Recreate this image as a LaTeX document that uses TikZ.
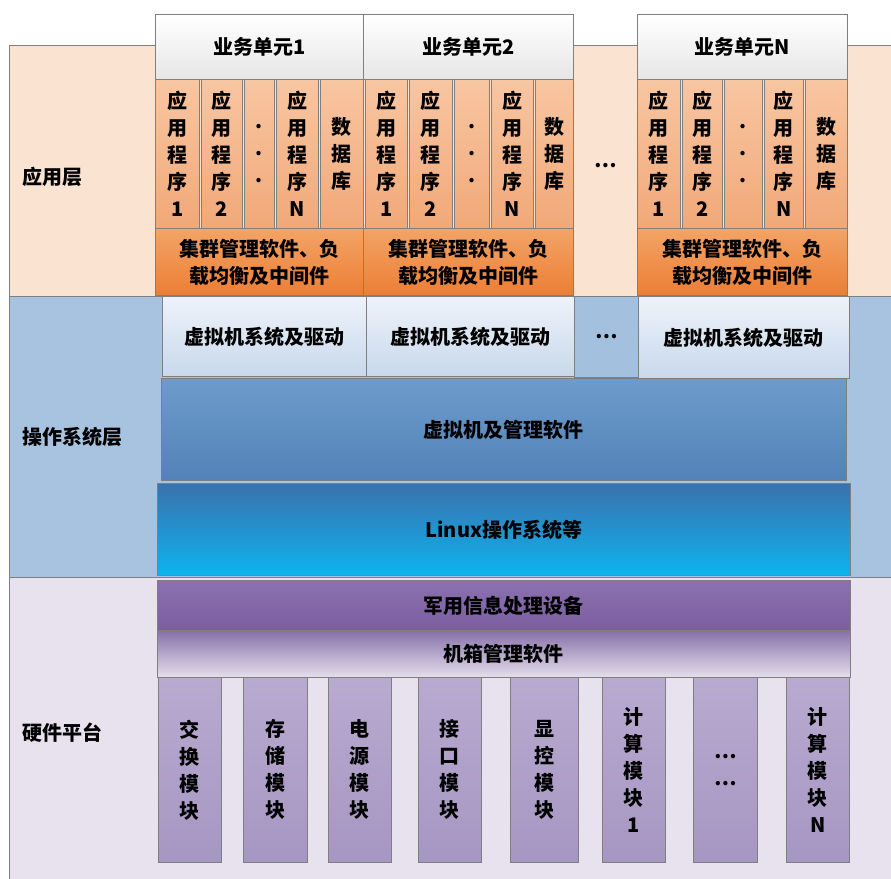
\documentclass[tikz,border=0pt]{standalone}
\usepackage{fontspec}
\setmainfont{Noto Sans CJK SC}
\definecolor{linegray}{HTML}{7F7F7F}
\definecolor{appbg}{HTML}{FBE3D2}
\definecolor{osbg}{HTML}{A8C3DF}
\definecolor{hwbg}{HTML}{E7E2EE}
\definecolor{hdrbot}{HTML}{E6E6E6}
\definecolor{appt}{HTML}{F8C6A2}
\definecolor{appb}{HTML}{F1A878}
\definecolor{midt}{HTML}{F3A466}
\definecolor{midb}{HTML}{EC7E35}
\definecolor{vmt}{HTML}{EEF3FA}
\definecolor{vmb}{HTML}{C8D8EB}
\definecolor{gapc}{HTML}{A3C0DE}
\definecolor{mgt}{HTML}{6D9BCB}
\definecolor{mgb}{HTML}{5282B8}
\definecolor{lxt}{HTML}{3A72AC}
\definecolor{lxb}{HTML}{0DB3EF}
\definecolor{jyt}{HTML}{8C71B1}
\definecolor{jyb}{HTML}{7A5E9F}
\definecolor{jxt}{HTML}{8770AA}
\definecolor{jxb}{HTML}{E4DFEB}
\definecolor{mdt}{HTML}{B9AAD0}
\definecolor{mdb}{HTML}{A696C2}
\newcommand\mybox[7]{\node[#1, anchor=north west, inner sep=0pt, minimum width={(#5)-(#3)}, minimum height={(#6)-(#4)}] (#2) at (#3,#4) {#7};}
\tikzset{
  txt/.style={font=\bfseries\fontsize{20}{27}\selectfont, align=center, text=black},
  lay/.style={draw=linegray, line width=0.8pt},
  hdr/.style={txt, draw=linegray, line width=0.8pt, top color=white, bottom color=hdrbot},
  appc/.style={txt, draw=linegray, line width=0.8pt, top color=appt, bottom color=appb},
  mid/.style={txt, draw=linegray, line width=0.8pt, top color=midt, bottom color=midb},
  vm/.style={txt, draw=linegray, line width=0.8pt, top color=vmt, bottom color=vmb},
  gap/.style={txt, draw=linegray, line width=0.8pt, fill=gapc},
  mg/.style={txt, draw=linegray, line width=0.8pt, top color=mgt, bottom color=mgb},
  lx/.style={txt, draw=linegray, line width=0.8pt, top color=lxt, bottom color=lxb},
  jy/.style={txt, draw=linegray, line width=0.8pt, top color=jyt, bottom color=jyb},
  jx/.style={txt, draw=linegray, line width=0.8pt, top color=jxt, bottom color=jxb},
  md/.style={txt, draw=linegray, line width=0.8pt, top color=mdt, bottom color=mdb},
  lbl/.style={txt, anchor=west, inner sep=0pt},
  plain/.style={txt, inner sep=0pt}
}
\begin{document}
\begin{tikzpicture}[x=1pt, y=-1pt]
\useasboundingbox (0,0) rectangle (891,878);
\fill[white] (0,0) rectangle (891,878);
% layer backgrounds
\mybox{lay, fill=appbg}{Lapp}{9}{45}{896}{296}{}
\mybox{lay, fill=osbg}{Los}{9}{296}{896}{577}{}
\mybox{lay, fill=hwbg}{Lhw}{9}{577}{896}{884}{}
\node[lbl] (tapp) at (22,177) {应用层};
\node[lbl] (tos) at (22,437) {操作系统层};
\node[lbl] (thw) at (22,733) {硬件平台};
% unit headers
\mybox{hdr}{h1}{155}{14}{363}{79}{业务单元1}
\mybox{hdr}{h2}{363}{14}{573}{79}{业务单元2}
\mybox{hdr}{hN}{637}{14}{847}{79}{业务单元N}
% unit 1 columns
\mybox{appc}{a11}{155}{79}{199}{228}{应\\用\\程\\序\\1}
\mybox{appc}{a12}{201}{79}{242}{228}{应\\用\\程\\序\\2}
\mybox{appc}{a1d}{244}{79}{274}{228}{.\\.\\.}
\mybox{appc}{a1n}{276}{79}{318}{228}{应\\用\\程\\序\\N}
\mybox{appc}{a1b}{320}{79}{363}{228}{数\\据\\库}
% unit 2 columns
\mybox{appc}{a21}{365}{79}{407}{228}{应\\用\\程\\序\\1}
\mybox{appc}{a22}{409}{79}{452}{228}{应\\用\\程\\序\\2}
\mybox{appc}{a2d}{454}{79}{489}{228}{.\\.\\.}
\mybox{appc}{a2n}{491}{79}{533}{228}{应\\用\\程\\序\\N}
\mybox{appc}{a2b}{535}{79}{573}{228}{数\\据\\库}
% unit N columns
\mybox{appc}{aN1}{637}{79}{680}{228}{应\\用\\程\\序\\1}
\mybox{appc}{aN2}{682}{79}{722}{228}{应\\用\\程\\序\\2}
\mybox{appc}{aNd}{724}{79}{762}{228}{.\\.\\.}
\mybox{appc}{aNn}{764}{79}{803}{228}{应\\用\\程\\序\\N}
\mybox{appc}{aNb}{805}{79}{847}{228}{数\\据\\库}
% middleware
\mybox{mid}{m1}{155}{228}{363}{295}{集群管理软件、负\\载均衡及中间件}
\mybox{mid}{m2}{363}{228}{573}{295}{集群管理软件、负\\载均衡及中间件}
\mybox{mid}{mN}{637}{228}{847}{295}{集群管理软件、负\\载均衡及中间件}
\node[plain] (adots) at (606,166) {…};
% OS layer
\mybox{vm}{v1}{162}{296}{366}{376}{虚拟机系统及驱动}
\mybox{vm}{v2}{366}{296}{574}{376}{虚拟机系统及驱动}
\mybox{gap}{vg}{574}{296}{638}{377}{…}
\mybox{vm}{vN}{638}{296}{849}{378}{虚拟机系统及驱动}
\mybox{mg}{vmm}{161}{378}{846}{480}{虚拟机及管理软件}
\mybox{lx}{lnx}{157}{483}{850}{575}{Linux操作系统等}
% hardware
\mybox{jy}{jy}{157}{580}{850}{630}{军用信息处理设备}
\mybox{jx}{jx}{157}{630}{850}{677}{机箱管理软件}
\mybox{md}{k1}{158}{677}{221}{862}{交\\换\\模\\块}
\mybox{md}{k2}{243}{677}{307}{862}{存\\储\\模\\块}
\mybox{md}{k3}{328}{677}{391}{862}{电\\源\\模\\块}
\mybox{md}{k4}{418}{677}{481}{862}{接\\口\\模\\块}
\mybox{md}{k5}{510}{677}{578}{862}{显\\控\\模\\块}
\mybox{md}{k6}{602}{677}{665}{862}{计\\算\\模\\块\\1}
\mybox{md}{k7}{693}{677}{757}{862}{…\\…}
\mybox{md}{k8}{786}{677}{849}{862}{计\\算\\模\\块\\N}
\end{tikzpicture}
\end{document}
